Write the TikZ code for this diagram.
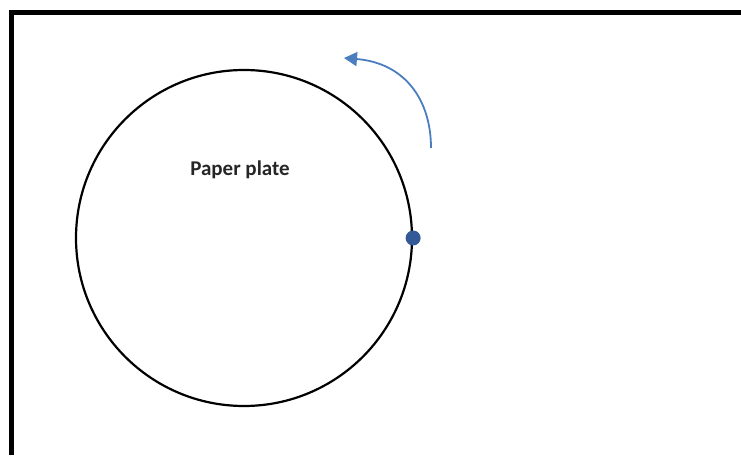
\documentclass[tikz,border=0pt]{standalone}
\usepackage{fontspec}
\setmainfont{Carlito}
\usetikzlibrary{arrows.meta,positioning}
\definecolor{arcBlue}{HTML}{4A7EBF}
\definecolor{pinBlue}{HTML}{335A96}
\tikzset{
  frame/.style={line width=5pt, draw=black},
  plate/.style={circle, draw=black, line width=2.2pt, minimum size=336pt, inner sep=0pt},
  pin/.style={circle, fill=pinBlue, minimum size=15pt, inner sep=0pt},
  label/.style={font=\bfseries\fontsize{21}{24}\selectfont, text=black!85},
  turn/.style={-{Triangle[length=13pt, width=14pt]}, line width=1.8pt, draw=arcBlue}
}
\begin{document}
\begin{tikzpicture}[x=1pt, y=1pt]
  \useasboundingbox (0,0) rectangle (741,455);
  % outer frame
  \draw[frame] (11.5,0) -- (11.5,442.5) -- (741,442.5);
  \node[plate] (plate) at (244,217) {};
  \node[label] (name) at (240,285) {Paper plate};
  \node[pin] (mark) at (plate.east) {};
  \coordinate (turnstart) at (431,307);
  \coordinate (turnend) at (344,397);
  \draw[turn] (turnstart) .. controls (431,355) and (405,392) .. (turnend);
\end{tikzpicture}
\end{document}
